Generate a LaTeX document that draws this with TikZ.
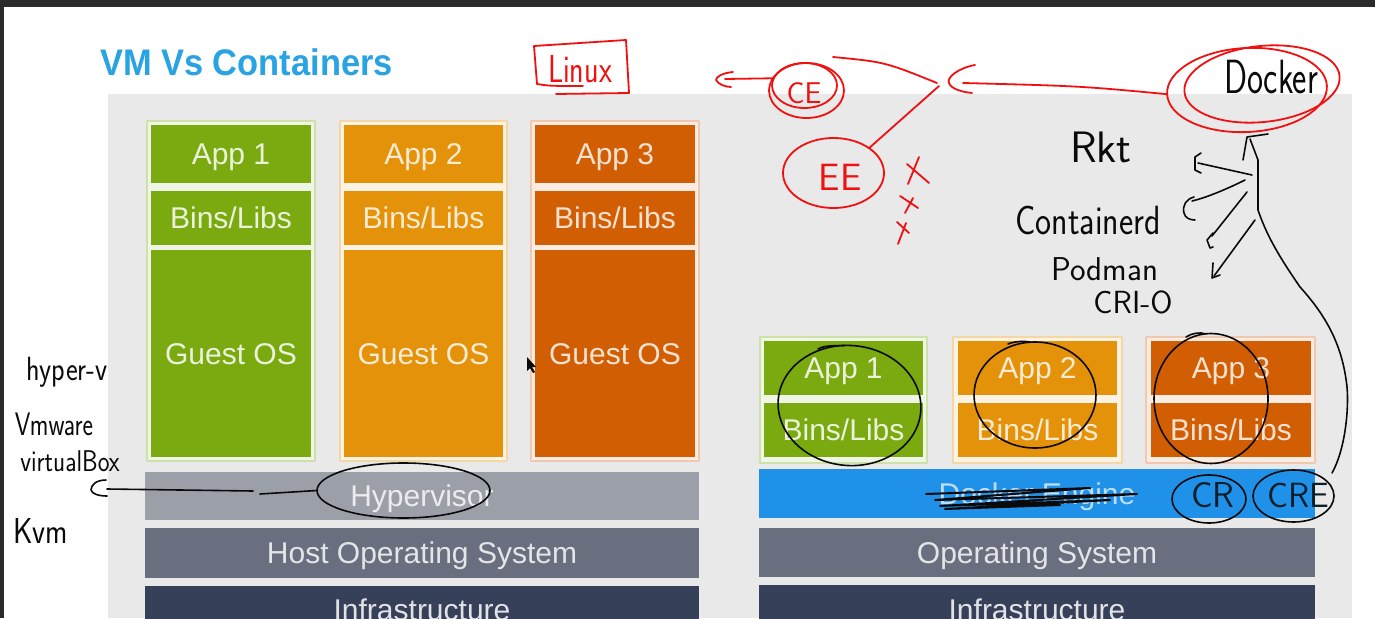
\documentclass[tikz,border=0pt]{standalone}
\usepackage{fontspec}
\setmainfont{Liberation Sans}
\usetikzlibrary{shapes.geometric}
\definecolor{gA}{RGB}{122,170,16}
\definecolor{oA}{RGB}{228,146,10}
\definecolor{rA}{RGB}{210,94,4}
\definecolor{gBg}{RGB}{240,246,230}
\definecolor{gBd}{RGB}{205,225,170}
\definecolor{oBg}{RGB}{252,243,228}
\definecolor{oBd}{RGB}{245,215,165}
\definecolor{rBg}{RGB}{250,236,226}
\definecolor{rBd}{RGB}{240,200,175}
\definecolor{hyp}{RGB}{155,159,168}
\definecolor{hos}{RGB}{106,111,127}
\definecolor{inf}{RGB}{54,64,89}
\definecolor{dbl}{RGB}{32,145,232}
\definecolor{panel}{RGB}{233,233,233}
\definecolor{topbar}{RGB}{43,43,43}
\definecolor{ttl}{RGB}{41,163,225}
\definecolor{pen}{RGB}{240,16,16}
\definecolor{ink}{RGB}{10,10,10}
\newcommand\appfont{\fontsize{30}{36}\selectfont}
\newcommand\hwf[1]{\sffamily\fontsize{#1}{#1}\selectfont}
\tikzset{
  colbox/.style={rectangle, inner sep=0pt, outer sep=0pt, line width=1.2pt},
  appbox/.style={rectangle, inner sep=0pt, outer sep=0pt, text height=21.5pt, text depth=0pt, font=\appfont},
  redpen/.style={draw=pen, line width=1.8pt},
  inkpen/.style={draw=ink, line width=1.6pt},
  ring/.style={ellipse, inner sep=0pt, outer sep=0pt},
  hw/.style={inner sep=0pt, outer sep=0pt},
}
\begin{document}
\begin{tikzpicture}[x=1pt,y=-1pt,line join=round,line cap=round]
\useasboundingbox (0,0) rectangle (1375,618);
\clip (0,0) rectangle (1375,618);
\fill[white] (0,0) rectangle (1375,618);
\fill[topbar] (0,0) rectangle (1375,7);
\fill[topbar] (0,0) rectangle (4,618);
\fill[panel] (108,94) rectangle (1352,618);

% title
\node[anchor=base west, inner sep=0pt, text=ttl, font=\bfseries\fontsize{37}{40}\selectfont] (title) at (100,75) {\scalebox{0.93}[1]{VM Vs Containers}};

% ---------- VM side ----------
\node[colbox, fill=gBg, draw=gBd, minimum width=168, minimum height=340] (vc1) at (231,291) {};
\node[appbox, fill=gA, text=white!85!gA, minimum width=160, minimum height=58] (va1) at (231,154) {App 1};
\node[appbox, fill=gA, text=white!85!gA, minimum width=160, minimum height=54] (vb1) at (231,218) {Bins/Libs};
\node[appbox, fill=gA, text=white!85!gA, minimum width=160, minimum height=207] (vg1) at (231,353.5) {Guest OS};

\node[colbox, fill=oBg, draw=oBd, minimum width=167, minimum height=340] (vc2) at (423.5,291) {};
\node[appbox, fill=oA, text=white!82!oA, minimum width=159, minimum height=58] (va2) at (423.5,154) {App 2};
\node[appbox, fill=oA, text=white!82!oA, minimum width=159, minimum height=54] (vb2) at (423.5,218) {Bins/Libs};
\node[appbox, fill=oA, text=white!82!oA, minimum width=159, minimum height=207] (vg2) at (423.5,353.5) {Guest OS};

\node[colbox, fill=rBg, draw=rBd, minimum width=168, minimum height=340] (vc3) at (615,291) {};
\node[appbox, fill=rA, text=white!82!rA, minimum width=160, minimum height=58] (va3) at (615,154) {App 3};
\node[appbox, fill=rA, text=white!82!rA, minimum width=160, minimum height=54] (vb3) at (615,218) {Bins/Libs};
\node[appbox, fill=rA, text=white!82!rA, minimum width=160, minimum height=207] (vg3) at (615,353.5) {Guest OS};

\node[appbox, fill=hyp, text=white!80!hyp, minimum width=554, minimum height=48] (hypbar) at (422,496) {Hypervisor};
\node[appbox, fill=hos, text=white!82!hos, minimum width=554, minimum height=50] (hostbar) at (422,553) {Host Operating System};
\node[appbox, fill=inf, text=white!85!inf, minimum width=554, minimum height=48] (infl) at (422,610) {Infrastructure};

% ---------- Container side ----------
\node[colbox, fill=gBg, draw=gBd, minimum width=167, minimum height=126] (cc1) at (843.5,400) {};
\node[appbox, fill=gA, text=white!85!gA, minimum width=159, minimum height=54] (ca1) at (843.5,368) {App 1};
\node[appbox, fill=gA, text=white!85!gA, minimum width=159, minimum height=54] (cb1) at (843.5,430) {Bins/Libs};

\node[colbox, fill=oBg, draw=oBd, minimum width=169, minimum height=126] (cc2) at (1037.5,400) {};
\node[appbox, fill=oA, text=white!82!oA, minimum width=159, minimum height=54] (ca2) at (1037.5,368) {App 2};
\node[appbox, fill=oA, text=white!82!oA, minimum width=159, minimum height=54] (cb2) at (1037.5,430) {Bins/Libs};

\node[colbox, fill=rBg, draw=rBd, minimum width=169, minimum height=126] (cc3) at (1230.5,400) {};
\node[appbox, fill=rA, text=white!82!rA, minimum width=160, minimum height=54] (ca3) at (1231,368) {App 3};
\node[appbox, fill=rA, text=white!82!rA, minimum width=160, minimum height=54] (cb3) at (1231,430) {Bins/Libs};

\node[appbox, fill=dbl, text=white!70!dbl, minimum width=556, minimum height=49] (engbar) at (1037,493.5) {Docker Engine};
\node[appbox, fill=hos, text=white!82!hos, minimum width=556, minimum height=49] (osbar) at (1037,552.5) {Operating System};
\node[appbox, fill=inf, text=white!85!inf, minimum width=556, minimum height=49] (infr) at (1037,609.5) {Infrastructure};

% cursor
\fill[ink] (527,357) -- (527,371) -- (530,368) -- (533,373) -- (535,372) -- (532,367) -- (536,367) -- cycle;

% ---------- red annotations ----------
\node[hw, text=pen, font={\hwf{30}}] (linux) at (580,69) {\scalebox{1}[1.3]{Linux}};
\draw[redpen] (537,84) -- (534,46) -- (626,40) -- (629,93) -- (556,94);
\draw[redpen] (537,84) .. controls (550,86) .. (583,86);

\node[hw, text=pen, font={\hwf{30}}] (ce) at (804,93) {CE};
\node[ring, redpen, minimum width=65, minimum height=45] (ceI) at (804.5,85.5) {};
\node[ring, redpen, minimum width=75, minimum height=55] (ceO) at (806.5,90.5) {};
\coordinate (ceTip) at (716,80);
\draw[redpen] (ceO.160) -- (725,79);
\draw[redpen] (733,72) .. controls (722,73) and (716,77) .. (ceTip) .. controls (718,84) and (725,87) .. (731,87);

\node[hw, text=pen, font={\hwf{38}}] (eetext) at (840,177) {EE};
\node[ring, redpen, minimum width=101, minimum height=70] (ee) at (833.5,173) {};

\node[hw, text=ink, font={\hwf{40}}] (docker) at (1271,77) {\scalebox{0.85}[1.2]{Docker}};
\node[ring, redpen, minimum width=160, minimum height=84, rotate=3] (dockA) at (1247,90) {};
\node[ring, redpen, minimum width=156, minimum height=76, rotate=6] (dockB) at (1262,84) {};

\coordinate (hubTip) at (949,83);
\coordinate (hubR) at (963,83);
\coordinate (hubL) at (937,83);
\coordinate (topFree) at (833,57);
\draw[redpen] (dockA.west) .. controls (1080,86) .. (hubR);
\draw[redpen] (975,65) .. controls (958,68) and (946,78) .. (hubTip) .. controls (951,89) and (962,92) .. (972,93);
\draw[redpen] (topFree) .. controls (885,62) .. (hubL);
\draw[redpen] (ee.35) -- (939,86);

% crosses
\draw[redpen] (907,164) -- (929,183) (919,157) -- (908,184);
\draw[redpen] (900,196) -- (918,208) (913,198) -- (905,213);
\draw[redpen] (897,222) -- (909,233) (906,223) -- (898,244);

% ---------- black annotations ----------
\node[hw, text=ink, font={\hwf{44}}] (rkt) at (1101,147) {Rkt};
\node[hw, text=ink, font={\hwf{34}}] (containerd) at (1088,220) {\scalebox{1}[1.2]{Containerd}};
\node[hw, text=ink, font={\hwf{33}}] (podman) at (1105,269) {Podman};
\node[hw, text=ink, font={\hwf{32}}] (crio) at (1133,302) {CRI-O};

\node[hw, text=ink, font={\hwf{28}}] (hyperv) at (67,372) {\scalebox{1}[1.2]{hyper-v}};
\node[hw, text=ink, font={\hwf{25}}] (vmware) at (54,424) {\scalebox{1}[1.3]{Vmware}};
\node[hw, text=ink, font={\hwf{25}}] (vbox) at (70,461) {\scalebox{1}[1.2]{virtualBox}};
\node[hw, text=ink, font={\hwf{30}}] (kvm) at (41,531) {\scalebox{1}[1.2]{Kvm}};

% circles round the containers
\node[ring, inkpen, minimum width=143, minimum height=120, rotate=-5] (o1) at (849.5,405.5) {};
\node[ring, inkpen, minimum width=122, minimum height=106] (o2) at (1035,395) {};
\node[ring, inkpen, minimum width=114, minimum height=130] (o3) at (1211,398.5) {};
\draw[inkpen] (o1.100) .. controls (835,346) and (825,345) .. (818,349);
\draw[inkpen] (o2.95) .. controls (1025,341) and (1015,341) .. (1008,344);
\draw[inkpen] (o3.95) .. controls (1200,332) and (1192,333) .. (1186,337);

% hypervisor ring and arrow
\node[ring, inkpen, minimum width=173, minimum height=55] (hypring) at (403.5,490.5) {};
\coordinate (hypTip) at (91,490);
\draw[inkpen] (hypring.west) -- (260,494);
\draw[inkpen] (253,491) -- (107,489);
\draw[inkpen] (106,480) .. controls (96,480) and (91,485) .. (hypTip) .. controls (92,494) and (99,496) .. (107,496);

% Docker Engine strike-out
\draw[ink, line width=2pt] (926,494) -- (1090,488) -- (935,500) -- (1137,494) -- (940,506) -- (1110,500) -- (945,509) -- (1060,505);

% CR / CRE
\node[hw, text=ink!85!dbl, font={\hwf{36}}] (crtext) at (1213,495) {CR};
\node[ring, inkpen, minimum width=74, minimum height=48] (cr) at (1209,499) {};
\node[hw, text=ink!85!dbl, font={\hwf{35}}] (cretext) at (1298,495) {CRE};
\node[ring, inkpen, minimum width=81, minimum height=52] (cre) at (1293.5,496) {};

% fan of runtimes
\coordinate (creTop) at (1332,473);
\coordinate (stemMid) at (1258,210);
\coordinate (stemTop) at (1250,139);
\draw[inkpen] (creTop) .. controls (1345,450) and (1349,410) .. (1347,387)
  .. controls (1343,350) and (1330,320) .. (1300,287)
  .. controls (1285,265) and (1268,240) .. (stemMid) -- (1258,160) -- (stemTop);
\draw[inkpen] (1243,160) -- (1247,137) -- (1268,134);
\draw[inkpen] (1252,175) -- (1198,163);
\draw[inkpen] (1201,153) -- (1195,157) -- (1195,170) -- (1201,173);
\draw[inkpen] (1245,180) .. controls (1225,190) and (1205,198) .. (1192,201);
\draw[inkpen] (1194,197) .. controls (1186,199) and (1182,206) .. (1184,213) .. controls (1185,218) and (1190,220) .. (1195,220);
\draw[inkpen] (1247,192) -- (1212,236);
\draw[inkpen] (1213,233) -- (1207,240) -- (1210,248) -- (1213,247);
\draw[inkpen] (1255,220) -- (1214,276);
\draw[inkpen] (1213,263) -- (1212,278) -- (1220,275);
\end{tikzpicture}
\end{document}
